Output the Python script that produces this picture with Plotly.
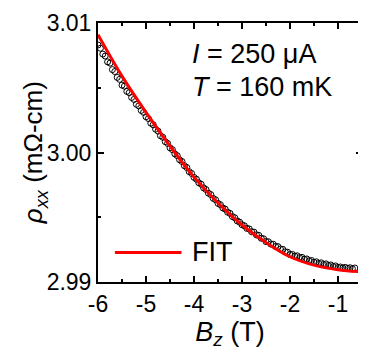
import plotly.graph_objects as go

# measured rho_xx (mOhm-cm) vs B_z (T)
b_data = [-6.00, -5.95, -5.90, -5.85, -5.80, -5.75, -5.70, -5.65, -5.60, -5.55,
          -5.50, -5.45, -5.40, -5.35, -5.30, -5.25, -5.20, -5.15, -5.10, -5.05,
          -5.00, -4.95, -4.90, -4.85, -4.80, -4.75, -4.70, -4.65, -4.60, -4.55,
          -4.50, -4.45, -4.40, -4.35, -4.30, -4.25, -4.20, -4.15, -4.10, -4.05,
          -4.00, -3.95, -3.90, -3.85, -3.80, -3.75, -3.70, -3.65, -3.60, -3.55,
          -3.50, -3.45, -3.40, -3.35, -3.30, -3.25, -3.20, -3.15, -3.10, -3.05,
          -3.00, -2.95, -2.90, -2.85, -2.80, -2.75, -2.70, -2.65, -2.60, -2.55,
          -2.50, -2.45, -2.40, -2.35, -2.30, -2.25, -2.20, -2.15, -2.10, -2.05,
          -2.00, -1.95, -1.90, -1.85, -1.80, -1.75, -1.70, -1.65, -1.60, -1.55,
          -1.50, -1.45, -1.40, -1.35, -1.30, -1.25, -1.20, -1.15, -1.10, -1.05,
          -1.00, -0.95, -0.90, -0.85, -0.80, -0.75, -0.70, -0.65]
rho_data = [3.00830, 3.00805, 3.00760, 3.00745, 3.00700, 3.00690, 3.00640, 3.00625, 3.00580, 3.00565,
            3.00520, 3.00512, 3.00472, 3.00462, 3.00425, 3.00410, 3.00372, 3.00360, 3.00325, 3.00310,
            3.00276, 3.00262, 3.00226, 3.00214, 3.00180, 3.00165, 3.00130, 3.00118, 3.00084, 3.00070,
            3.00036, 3.00022, 2.99990, 2.99976, 2.99944, 2.99930, 2.99898, 2.99884, 2.99852, 2.99838,
            2.99808, 2.99794, 2.99766, 2.99755, 2.99727, 2.99714, 2.99686, 2.99675, 2.99646, 2.99635,
            2.99607, 2.99597, 2.99572, 2.99563, 2.99539, 2.99530, 2.99505, 2.99496, 2.99472, 2.99462,
            2.99442, 2.99434, 2.99414, 2.99410, 2.99388, 2.99385, 2.99364, 2.99360, 2.99338, 2.99334,
            2.99312, 2.99311, 2.99293, 2.99292, 2.99274, 2.99273, 2.99255, 2.99252, 2.99233, 2.99230,
            2.99212, 2.99213, 2.99200, 2.99202, 2.99188, 2.99190, 2.99176, 2.99178, 2.99164, 2.99166,
            2.99152, 2.99156, 2.99143, 2.99148, 2.99135, 2.99140, 2.99127, 2.99132, 2.99119, 2.99124,
            2.99112, 2.99116, 2.99108, 2.99113, 2.99105, 2.99110, 2.99102, 2.99108]

# fit curve
b_fit = [-6.0, -5.5, -5.0, -4.5, -4.0, -3.5, -3.0, -2.5, -2.0, -1.5, -1.0, -0.5]
rho_fit = [3.00910, 3.00590, 3.00310, 3.00050, 2.99810, 2.99610,
           2.99440, 2.99305, 2.99195, 2.99130, 2.99095, 2.99078]

x_ticks = [-6, -5, -4, -3, -2, -1]
x_ticktext = ["-6", "-5", "-4", "-3", "-2", "-1"]
y_ticks = [2.99, 3.00, 3.01]
y_ticktext = ["2.99", "3.00", "3.01"]

FONT = "Arial, Liberation Sans, sans-serif"

fig = go.Figure()

fig.add_trace(go.Scatter(
    x=b_data, y=rho_data, mode="markers",
    marker=dict(symbol="circle-open", size=6, color="black", line=dict(width=1)),
    showlegend=False
))

fig.add_trace(go.Scatter(
    x=b_fit, y=rho_fit, mode="lines", line_shape="spline",
    line=dict(color="#ff0000", width=3),
    name="FIT", showlegend=False
))

# legend drawn by hand (long line sample like the original)
fig.add_shape(type="line", xref="paper", yref="paper",
              x0=0.064, x1=0.316, y0=0.114, y1=0.114,
              line=dict(color="#ff0000", width=3))
fig.add_annotation(text="FIT", xref="paper", yref="paper", x=0.35, y=0.114,
                   xanchor="left", yanchor="middle", showarrow=False,
                   font=dict(family=FONT, size=27, color="black"))

fig.add_annotation(text="<i>I</i> = 250 μA", xref="paper", yref="paper",
                   x=0.35, y=0.879, xanchor="left", yanchor="middle", showarrow=False,
                   font=dict(family=FONT, size=27, color="black"))
fig.add_annotation(text="<i>T</i> = 160 mK", xref="paper", yref="paper",
                   x=0.35, y=0.754, xanchor="left", yanchor="middle", showarrow=False,
                   font=dict(family=FONT, size=27, color="black"))

# y axis title placed as rotated annotation
fig.add_annotation(text="<i>ρ</i><sub><i>xx</i></sub> (mΩ-cm)", xref="paper", yref="paper",
                   x=-0.24, y=0.5, xanchor="center", yanchor="middle", textangle=-90,
                   showarrow=False, font=dict(family=FONT, size=26, color="black"))

axis_common = dict(
    showline=True, linecolor="black", linewidth=2, mirror="ticks",
    ticks="inside", ticklen=6, tickwidth=2, tickcolor="black",
    showgrid=False, zeroline=False, ticklabeloverflow="allow",
    tickfont=dict(family=FONT, size=23, color="black"),
)

fig.update_xaxes(
    range=[-6, -0.5], tickvals=x_ticks, ticktext=x_ticktext,
    minor=dict(dtick=0.5, ticks="inside", ticklen=3, tickwidth=2, tickcolor="black"),
    title=dict(text="<i>B</i><sub><i>z</i></sub> (T)", standoff=1,
               font=dict(family=FONT, size=27, color="black")),
    **axis_common
)
fig.update_yaxes(
    range=[2.99, 3.01], tickvals=y_ticks, ticktext=y_ticktext,
    minor=dict(dtick=0.005, tick0=2.99, ticks="inside", ticklen=3, tickwidth=2, tickcolor="black"),
    **axis_common
)

# page body adds 8px offset, so the figure is a bit smaller than the window
fig.update_layout(
    width=358, height=347,
    margin=dict(l=90, r=2, t=10, b=73),
    plot_bgcolor="white", paper_bgcolor="white",
    showlegend=False,
)

fig.write_html("out.html")
